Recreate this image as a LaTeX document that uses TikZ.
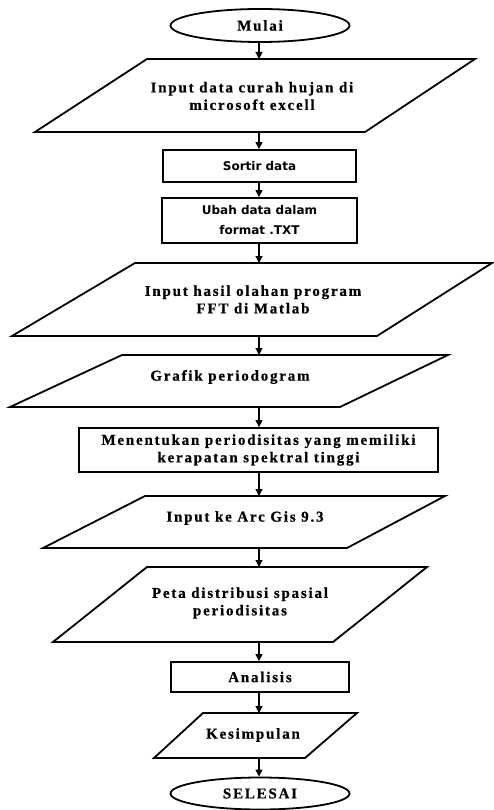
\documentclass[tikz,border=0pt]{standalone}
\usepackage{fontspec}
\setmainfont{Liberation Serif}
\newfontfamily\sortfont{DejaVu Sans}
\usetikzlibrary{arrows.meta,shapes.geometric}
\begin{document}
\begin{tikzpicture}[x=1pt,y=-1pt,
  outline/.style={draw=black,line width=1.8pt,line join=miter},
  boxnode/.style={outline,rectangle,inner sep=0pt},
  ovalnode/.style={outline,ellipse,inner sep=0pt,minimum width=179pt,minimum height=33pt},
  txt/.style={align=center,font=\fontsize{15}{17.5}\selectfont\bfseries\addfontfeatures{LetterSpace=12,FakeBold=0.6}},
  sanstxt/.style={align=center,font=\fontsize{12}{20}\selectfont\sortfont\bfseries},
  arr/.style={draw=black,line width=1.1pt,-{Triangle[width=7pt,length=7pt]}}]
\useasboundingbox (0,0) rectangle (494,810);
\fill[white] (0,0) rectangle (494,810);

% start
\node[ovalnode,txt] (start) at (260,25.5) {Mulai};

% P1
\draw[outline] (147,59) -- (475,59) -- (365,132) -- (35,132) -- cycle;
\coordinate (p1t) at (259,59); \coordinate (p1b) at (259,132);
\node[txt] (t1) at (252,96) {Input data curah hujan di\\microsoft excell};

% Sortir
\node[boxnode,minimum width=193pt,minimum height=32pt,sanstxt] (sortir) at (259.5,166) {Sortir data};
% Ubah
\node[boxnode,minimum width=195pt,minimum height=45pt,sanstxt] (ubah) at (259.5,220.5) {Ubah data dalam\\format .TXT};

% P2
\draw[outline] (135,263) -- (492,263) -- (377,336) -- (12,336) -- cycle;
\coordinate (p2t) at (259,263); \coordinate (p2b) at (259,336);
\node[txt] (t2) at (253,299.5) {Input hasil olahan program\\FFT di Matlab};

% P3
\draw[outline] (122,355) -- (448,355) -- (340,407) -- (10,407) -- cycle;
\coordinate (p3t) at (259,355); \coordinate (p3b) at (259,407);
\node[txt] (t3) at (230,377) {Grafik periodogram};

% Menentukan
\node[boxnode,minimum width=359pt,minimum height=44pt,txt] (menentukan) at (258.5,450) {Menentukan periodisitas yang memiliki\\kerapatan spektral tinggi};

% P4
\draw[outline] (145,496) -- (445,496) -- (347,548) -- (43,548) -- cycle;
\coordinate (p4t) at (259,496); \coordinate (p4b) at (259,548);
\node[txt] (t4) at (245,518) {Input ke Arc Gis 9.3};

% P5
\draw[outline] (147,567) -- (427,567) -- (333,642) -- (53,642) -- cycle;
\coordinate (p5t) at (259,567); \coordinate (p5b) at (259,642);
\node[txt] (t5) at (240,603) {Peta distribusi spasial\\periodisitas};

% Analisis
\node[boxnode,minimum width=178pt,minimum height=30pt,txt] (analisis) at (260,677) {Analisis};

% Kesimpulan
\draw[outline] (203,713) -- (357,713) -- (305,758) -- (154,758) -- cycle;
\coordinate (p6t) at (259,713); \coordinate (p6b) at (259,758);
\node[txt] (t6) at (253,735) {Kesimpulan};

% end
\node[ovalnode,minimum height=32pt,txt] (end) at (260,793.5) {SELESAI};

% arrows
\draw[arr] (start.south -| p1t) -- (p1t);
\draw[arr] (p1b) -- (p1b |- sortir.north);
\draw[arr] (sortir.south -| p1b) -- (p1b |- ubah.north);
\draw[arr] (ubah.south -| p1b) -- (p2t);
\draw[arr] (p2b) -- (p3t);
\draw[arr] (p3b) -- (p3b |- menentukan.north);
\draw[arr] (menentukan.south -| p3b) -- (p4t);
\draw[arr] (p4b) -- (p5t);
\draw[arr] (p5b) -- (p5b |- analisis.north);
\draw[arr] (analisis.south -| p5b) -- (p6t);
\draw[arr] (p6b) -- (p6b |- end.north);
\end{tikzpicture}
\end{document}
